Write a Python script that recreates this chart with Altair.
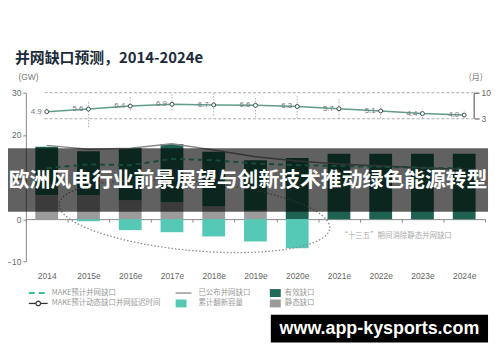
import altair as alt
import pandas as pd
import numpy as np

# ---------------- data ----------------
YEARS = ["2014", "2015e", "2016e", "2017e", "2018e", "2019e", "2020e",
         "2021e", "2022e", "2023e", "2024e"]
STATIC_GAP = [5.7, 5.7, 4.5, 4.0, 3.0, 2.0, 0.0, 0.0, 0.0, 0.0, 0.0]
EFFECTIVE_GAP = [11.5, 10.4, 12.4, 13.8, 13.0, 12.0, 14.5, 15.5, 15.5, 15.5, 15.5]
CUM_CAPACITY = [0.0, -0.5, -2.6, -3.1, -4.1, -5.3, -6.9, 0.0, 0.0, 0.0, 0.0]
ANNOUNCED_GAP = [17.5, 16.6, 16.8, 17.9, 16.4, 14.8, 13.8, 13.1, 12.6, 12.2, 11.8]
MAKE_GAP = [12.1, 13.0, 12.8, 14.3, 14.0, 13.2, 12.8, 12.6, 12.4, 12.2, 12.0]
DELAY_MONTHS = [4.9, 5.6, 6.4, 6.9, 6.7, 6.6, 6.3, 5.7, 5.1, 4.4, 4.0]
DELAY_LOW = [4.6, 0.7, 5.2, 5.2, 3.9, 3.4, 3.1, 3.1, 3.1, 3.1, 3.4]
DELAY_HIGH = [6.4, 7.9, 8.9, 9.7, 10.0, 8.8, 9.2, 8.4, 6.5, 5.7, 5.2]
DELAY_BAND = [3, 10]

KINDS = ["静态缺口", "有效缺口", "累计翻新容量"]
KIND_COLORS = ["#9b9b9b", "#1f6253", "#55c8b6"]

LEGEND_LABELS = ["MAKE预计并网缺口", "MAKE预计动态缺口并网延迟时间",
                 "已公布并网缺口", "累计翻新容量", "有效缺口", "静态缺口"]
LEGEND_KIND = ["dash", "circle", "line", "square", "square", "square"]
LEGEND_COLOR = ["#3dbf9c", "#333333", "#8a8a8a", "#55c8b6", "#22695a", "#9b9b9b"]
LEGEND_COL = [0, 0, 1, 1, 2, 2]
LEGEND_ROW = [0, 1, 0, 1, 0, 1]

TITLE = "并网缺口预测，2014-2024e"
ANNOTATION = "“十三五”期间消除静态并网缺口"
BANNER_TEXT = "欧洲风电行业前景展望与创新技术推动绿色能源转型"
URL_TEXT = "www.app-kysports.com"

# ---------------- layout / style ----------------
W, H = 463, 170
CJK = "Noto Sans CJK SC"
LAT = "Liberation Sans"

bar_rows = []
for i, yr in enumerate(YEARS):
    bar_rows.append({"year": yr, "kind": KINDS[0], "lo": 0.0, "hi": STATIC_GAP[i]})
    bar_rows.append({"year": yr, "kind": KINDS[1], "lo": STATIC_GAP[i],
                     "hi": STATIC_GAP[i] + EFFECTIVE_GAP[i]})
    if CUM_CAPACITY[i] != 0:
        bar_rows.append({"year": yr, "kind": KINDS[2], "lo": CUM_CAPACITY[i], "hi": 0.0})
bars_df = pd.DataFrame(bar_rows)
lines_df = pd.DataFrame({"year": YEARS, "announced": ANNOUNCED_GAP, "make": MAKE_GAP})
months_df = pd.DataFrame({"year": YEARS, "m": DELAY_MONTHS, "lo": DELAY_LOW, "hi": DELAY_HIGH})
band_df = pd.DataFrame({"m": DELAY_BAND})
bracket_df = pd.DataFrame({"lo": [DELAY_BAND[0]], "hi": [DELAY_BAND[1]]})

x_main = alt.X("year:O", sort=YEARS,
               scale=alt.Scale(domain=YEARS, paddingInner=0, paddingOuter=0),
               axis=alt.Axis(title=None, tickBand="extent", offset=-42.5, labelPadding=50,
                             labelAngle=0, domainColor="#888", tickColor="#888", tickSize=3,
                             labelColor="#666", labelFontSize=8.5, labelFont=LAT))
y_gw = alt.Scale(domain=[-10, 30], nice=False, zero=False)
y_axis = alt.Axis(values=list(range(-10, 31, 5)), grid=False, domainColor="#888",
                  tickColor="#888", tickSize=3, labelColor="#666", labelFontSize=8.5,
                  labelFont=LAT, labelPadding=2, title="(GW)", titleAngle=0,
                  titleAlign="left", titleBaseline="alphabetic", titleX=-8, titleY=-13,
                  titleFontSize=8.5, titleColor="#777", titleFontWeight="normal",
                  titleFont=LAT)

bars = alt.Chart(bars_df).mark_bar(size=23).encode(
    x=x_main,
    y=alt.Y("hi:Q", scale=y_gw, axis=y_axis),
    y2="lo:Q",
    color=alt.Color("kind:N", scale=alt.Scale(domain=KINDS, range=KIND_COLORS), legend=None),
)
announced = alt.Chart(lines_df).mark_line(color="#8a8a8a", strokeWidth=1.5).encode(
    x=alt.X("year:O", sort=YEARS), y="announced:Q")
make = alt.Chart(lines_df).mark_line(color="#3dbf9c", strokeWidth=2, strokeDash=[5, 4]).encode(
    x=alt.X("year:O", sort=YEARS), y="make:Q")
main = alt.layer(bars, announced, make)

# ---- delay months (right axis) ----
x_pt = alt.X("year:O", sort=YEARS, axis=None, scale=alt.Scale(domain=YEARS))
y_m = alt.Scale(domain=[-35.25, 10], nice=False, zero=False)
m_axis = alt.Axis(orient="right", values=DELAY_BAND, offset=-11, domain=False, ticks=True,
                  tickSize=5, tickColor="#444", labelColor="#666", labelFontSize=8.5,
                  labelFont=LAT, labelPadding=2, grid=False, title="(月)", titleAngle=0,
                  titleAlign="left", titleBaseline="alphabetic", titleX=-6, titleY=-13,
                  titleFontSize=8.5, titleColor="#777", titleFontWeight="normal", titleFont=CJK)

m_rules = alt.Chart(band_df).mark_rule(color="#aaa", strokeDash=[3, 2], strokeWidth=1).encode(
    y=alt.Y("m:Q", scale=y_m, axis=m_axis), x=alt.value(19), x2=alt.value(451))
m_bracket = alt.Chart(bracket_df).mark_rule(color="#444", strokeWidth=1).encode(
    y="lo:Q", y2="hi:Q", x=alt.value(452))
m_ranges = alt.Chart(months_df).mark_rule(color="#b0b0b0", strokeDash=[1.5, 1.5]).encode(
    x=x_pt, y="lo:Q", y2="hi:Q")
m_line = alt.Chart(months_df).mark_line(color="#5f9c8c", strokeWidth=1.5).encode(x=x_pt, y="m:Q")
m_pts = alt.Chart(months_df).mark_point(shape="circle", filled=True, fill="white",
                                        stroke="#3d4d4a", strokeWidth=1, size=16,
                                        opacity=1).encode(x=x_pt, y="m:Q")
m_text = alt.Chart(months_df).mark_text(align="right", baseline="middle", dx=-5,
                                        fontSize=8, color="#777", font=LAT).encode(
    x=x_pt, y="m:Q", text=alt.Text("m:Q", format=".1f"))
months = alt.layer(m_rules, m_bracket, m_ranges, m_line, m_pts, m_text)

# ---- dotted ellipse annotation ----
t = np.linspace(0, 2 * np.pi, 181)
E_CX, E_CY, E_A, E_B, E_S = 3.54, 0.7, 3.24, 8.2, 2.7
ell_df = pd.DataFrame({"k": np.arange(len(t)),
                       "x": E_CX + E_A * np.cos(t),
                       "y": E_CY + E_B * np.sin(t) - E_S * np.cos(t)})
x_q = alt.Scale(domain=[-0.5, len(YEARS) - 0.5], nice=False, zero=False)
ellipse = alt.Chart(ell_df).mark_line(color="#8a8a8a", strokeWidth=1.3,
                                      strokeDash=[1.5, 2]).encode(
    x=alt.X("x:Q", scale=x_q, axis=None), y=alt.Y("y:Q", scale=y_gw, axis=None),
    order="k:Q")
ann_df = pd.DataFrame({"x": [8.37], "y": [-4.0], "t": [ANNOTATION]})
ann = alt.Chart(ann_df).mark_text(fontSize=7.5, color="#aaa", font=CJK).encode(
    x="x:Q", y="y:Q", text="t:N")
annot = alt.layer(ellipse, ann)

# ---- legend (drawn manually, 3 columns x 2 rows) ----
COL_SYM_X = [3, 151, 246]
COL_LAB_X = [26, 174, 261]
ROW_Y = [202, 212.5]
leg = pd.DataFrame({"label": LEGEND_LABELS, "kind": LEGEND_KIND, "color": LEGEND_COLOR,
                    "col": LEGEND_COL, "row": LEGEND_ROW})
leg["sx"] = [COL_SYM_X[c] for c in leg["col"]]
leg["lx"] = [COL_LAB_X[c] for c in leg["col"]]
leg["ly"] = [ROW_Y[r] for r in leg["row"]]
leg["sx2"] = leg["sx"] + np.where(leg["kind"] == "square", 11,
                                  np.where(leg["kind"] == "line", 16, 19))
leg["cx"] = (leg["sx"] + leg["sx2"]) / 2
leg["top"] = leg["ly"] - 4
leg["bot"] = leg["ly"] + 4

def px(f):
    return alt.X(f, scale=None, axis=None)

def py(f):
    return alt.Y(f, scale=None, axis=None)

leg_text = alt.Chart(leg).mark_text(align="left", baseline="middle", fontSize=7.5,
                                    color="#9a9a9a", font=CJK).encode(
    x=px("lx:Q"), y=py("ly:Q"), text="label:N")
leg_dash = alt.Chart(leg).transform_filter("datum.kind == 'dash'").mark_rule(
    strokeWidth=2, strokeDash=[6, 4]).encode(
    x=px("sx:Q"), x2="sx2:Q", y=py("ly:Q"), color=alt.Color("color:N", scale=None))
leg_line = alt.Chart(leg).transform_filter(
    "datum.kind == 'line' || datum.kind == 'circle'").mark_rule(strokeWidth=1.3).encode(
    x=px("sx:Q"), x2="sx2:Q", y=py("ly:Q"), color=alt.Color("color:N", scale=None))
leg_circle = alt.Chart(leg).transform_filter("datum.kind == 'circle'").mark_point(
    shape="circle", filled=True, fill="white", strokeWidth=1.2, size=22, opacity=1).encode(
    x=px("cx:Q"), y=py("ly:Q"), stroke=alt.Stroke("color:N", scale=None))
leg_sq = alt.Chart(leg).transform_filter("datum.kind == 'square'").mark_rect().encode(
    x=px("sx:Q"), x2="sx2:Q", y=py("top:Q"), y2="bot:Q",
    color=alt.Color("color:N", scale=None))
legend = alt.layer(leg_dash, leg_line, leg_circle, leg_sq, leg_text)

# ---- overlay banners ----
one = pd.DataFrame({"t": [BANNER_TEXT], "u": [URL_TEXT]})
ban_rect = alt.Chart(one).mark_rect(color="black", opacity=0.62).encode(
    x=alt.value(-18), x2=alt.value(466), y=alt.value(56), y2=alt.value(120))
ban_text = alt.Chart(one).mark_text(color="white", fontSize=21, fontWeight="bold", font=CJK,
                                    align="center", baseline="middle").encode(
    x=alt.value(224), y=alt.value(89), text="t:N")
url_rect = alt.Chart(one).mark_rect(color="black").encode(
    x=alt.value(247), x2=alt.value(466), y=alt.value(224), y2=alt.value(252))
url_text = alt.Chart(one).mark_text(color="white", fontSize=18, fontWeight="bold", font=LAT,
                                    align="center", baseline="middle").encode(
    x=alt.value(356.5), y=alt.value(238.5), text="u:N")
overlay = alt.layer(ban_rect, ban_text, url_rect, url_text)

chart = alt.layer(main, months, annot, legend, overlay).resolve_scale(
    x="independent", y="independent"
).properties(
    width=W, height=H,
    padding={"left": 18, "top": 84, "right": 7, "bottom": 82},
    autosize=alt.AutoSizeParams(type="none"),
    title=alt.TitleParams(text=TITLE, anchor="start", frame="group", dx=-11, offset=-5,
                          fontSize=15, font=CJK, fontWeight="bold", color="#1c2b3a",
                          baseline="alphabetic"),
    background="white",
).configure_view(stroke=None)

chart.save("out.html", embed_options={"renderer": "svg", "actions": False})
